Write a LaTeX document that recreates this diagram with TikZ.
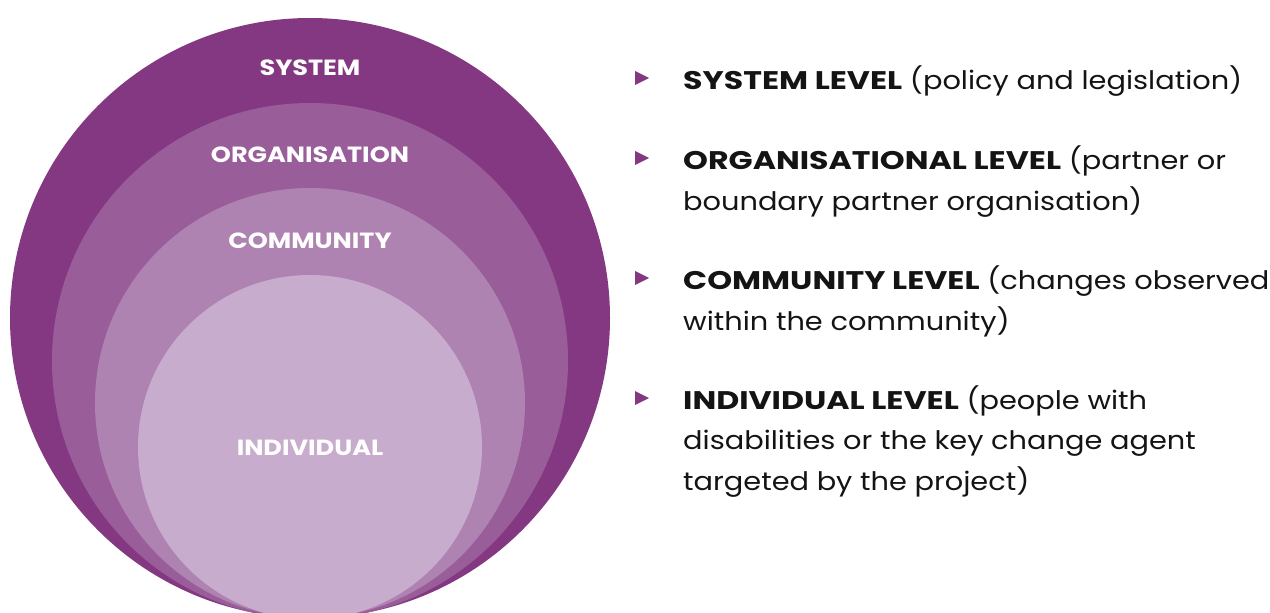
\documentclass[tikz,border=0pt]{standalone}
\usepackage{fontspec}
\setmainfont{Poppins}[FakeStretch=1.13,BoldFeatures={FakeStretch=1.24}]
\newfontfamily\ringfont{Poppins}[FakeStretch=1.16]
\definecolor{ringA}{RGB}{132,56,130}
\definecolor{ringB}{RGB}{153,93,153}
\definecolor{ringC}{RGB}{175,131,177}
\definecolor{ringD}{RGB}{200,172,206}
\definecolor{ink}{RGB}{20,20,20}
\begin{document}
\begin{tikzpicture}[x=1pt,y=-1pt,
  ringlabel/.style={text=white,font=\ringfont\fontsize{22}{26}\selectfont\bfseries,inner sep=0pt},
  itemtext/.style={text=ink,font=\fontsize{25.5}{40.5}\selectfont,align=left,anchor=base west,inner sep=0pt}
]
\useasboundingbox (0,0) rectangle (1270,613);
\begin{scope}
\clip (0,0) rectangle (1270,613);
% nested circles touching at the bottom
\fill[ringA] (310,318) circle (300);
\fill[ringB] (310,361) circle (258);
\fill[ringC] (310,403) circle (215);
\fill[ringD] (310,447) circle (172);
\end{scope}
\node[ringlabel] (sys) at (310,68) {SYSTEM};
\node[ringlabel] (org) at (310,155) {ORGANISATION};
\node[ringlabel] (com) at (310,241) {COMMUNITY};
\node[ringlabel] (ind) at (310,448) {INDIVIDUAL};
% bullet markers
\foreach \y in {78,158,278,398}
  \fill[ringA] (635,\y-7) -- (649,\y) -- (635,\y+7) -- cycle;
% bullet texts (anchored at the baseline of the last line)
\node[itemtext] (t1) at (683,89) {\textbf{SYSTEM LEVEL} (policy and legislation)};
\node[itemtext] (t2) at (683,210) {\textbf{ORGANISATIONAL LEVEL} (partner or\\boundary partner organisation)};
\node[itemtext] (t3) at (683,330) {\textbf{COMMUNITY LEVEL} (changes observed\\within the community)};
\node[itemtext] (t4) at (683,490) {\textbf{INDIVIDUAL LEVEL} (people with\\disabilities or the key change agent\\targeted by the project)};
\end{tikzpicture}
\end{document}
